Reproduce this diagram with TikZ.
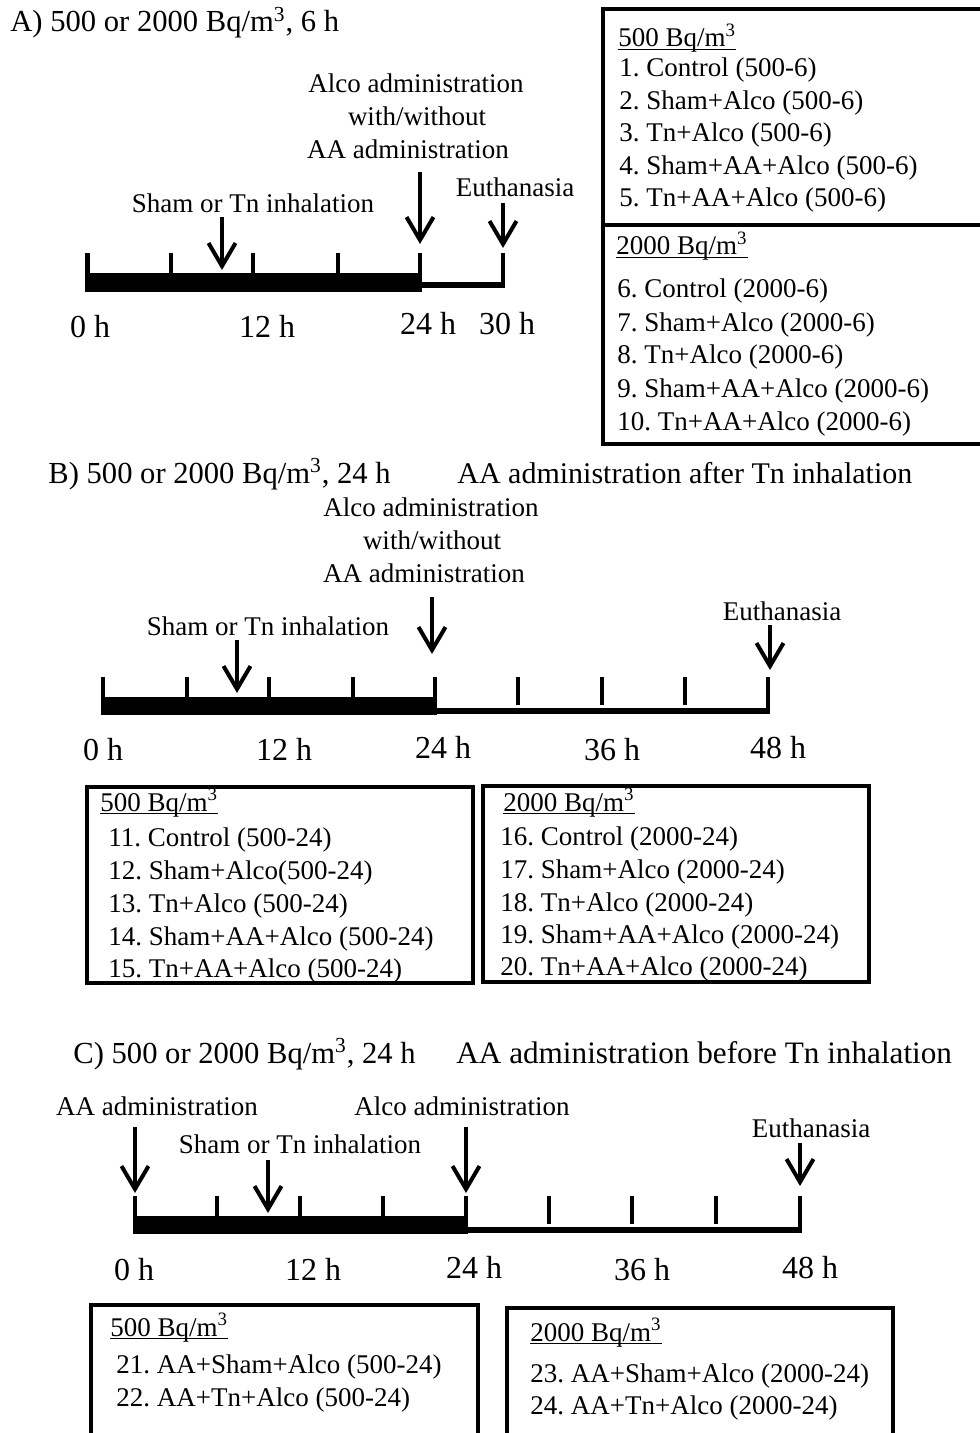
\documentclass[tikz,border=0pt]{standalone}
\usepackage{fontspec}
\setmainfont{Liberation Serif}
\usetikzlibrary{arrows.meta}
\frenchspacing
\newcommand\myul[1]{\setbox0\hbox{#1}\rlap{\rule[-1.7pt]{\wd0}{0.8pt}}\box0}
\begin{document}
\begin{tikzpicture}[x=0.5pt,y=-0.5pt,
  txt/.style={inner sep=0pt, font=\fontsize{13.5}{16}\selectfont, anchor=base},
  itm/.style={txt, anchor=base west},
  hr/.style={inner sep=0pt, font=\fontsize{16}{19}\selectfont, anchor=base},
  ttl/.style={inner sep=0pt, font=\fontsize{15.3}{18}\selectfont, anchor=base west},
  tick/.style={line width=2.3pt},
  thinline/.style={line width=2.8pt},
  arr/.style={line width=2pt, -{Straight Barb[length=11.5pt,width=13.5pt]}},
  box/.style={line width=2.4pt}]
\useasboundingbox (0,0) rectangle (979,1433);
\fill[white] (0,0) rectangle (979,1433);

% ================= Panel A =================
\node[ttl] (tA) at (10,32) {A) 500 or 2000 Bq/m\textsuperscript{3}, 6 h};
\node[txt] (aAlco1) at (416,93) {Alco administration};
\node[txt] (aAlco2) at (417,126) {with/without};
\node[txt] (aAlco3) at (408,159) {AA administration};
\node[txt] (aSham) at (253,213) {Sham or Tn inhalation};
\node[txt] (aEuth) at (515,197) {Euthanasia};
% timeline
\fill (85,273) rectangle (422,292);
\draw[thinline] (420,285) -- (505,285);
\foreach \x in {87.5,171,253,338,420} \draw[tick] (\x,253) -- (\x,280);
\draw[tick] (503,253) -- (503,286.4);
% arrows
\coordinate (aS0) at (222,217); \coordinate (aS1) at (222,270);
\coordinate (aA0) at (420,172); \coordinate (aA1) at (420,244);
\coordinate (aE0) at (503,203); \coordinate (aE1) at (503,248);
\draw[arr] (aS0) -- (aS1);
\draw[arr] (aA0) -- (aA1);
\draw[arr] (aE0) -- (aE1);
% hours
\node[hr] (aH0) at (90,337) {0 h};
\node[hr] (aH12) at (267,337) {12 h};
\node[hr] (aH24) at (428,335) {24 h};
\node[hr] (aH30) at (507,335) {30 h};
% box A
\draw[box] (603,9) rectangle (995,225);
\draw[box] (603,225) rectangle (995,444);
\node[itm] (a500) at (618,47) {\myul{500 Bq/m\textsuperscript{3}}};
\node[itm] (a1) at (619,77) {1. Control (500-6)};
\node[itm] (a2) at (619,110) {2. Sham+Alco (500-6)};
\node[itm] (a3) at (619,142) {3. Tn+Alco (500-6)};
\node[itm] (a4) at (619,175) {4. Sham+AA+Alco (500-6)};
\node[itm] (a5) at (619,207) {5. Tn+AA+Alco (500-6)};
\node[itm] (a2000) at (616,255) {\myul{2000 Bq/m\textsuperscript{3}}};
\node[itm] (a6) at (617,298) {6. Control (2000-6)};
\node[itm] (a7) at (617,332) {7. Sham+Alco (2000-6)};
\node[itm] (a8) at (617,364) {8. Tn+Alco (2000-6)};
\node[itm] (a9) at (617,397) {9. Sham+AA+Alco (2000-6)};
\node[itm] (a10) at (617,430) {10. Tn+AA+Alco (2000-6)};

% ================= Panel B =================
\node[ttl] (tB) at (48,483) {B) 500 or 2000 Bq/m\textsuperscript{3}, 24 h};
\node[ttl, font=\fontsize{15}{18}\selectfont] (tB2) at (457,483) {AA administration after Tn inhalation};
\node[txt] (bAlco1) at (431,516) {Alco administration};
\node[txt] (bAlco2) at (432,549) {with/without};
\node[txt] (bAlco3) at (424,582) {AA administration};
\node[txt] (bSham) at (268,635) {Sham or Tn inhalation};
\node[txt] (bEuth) at (782,620) {Euthanasia};
\fill (101,697) rectangle (437,715);
\draw[thinline] (435,711) -- (770,711);
\foreach \x in {103,187,269,353,435,518,602,685} \draw[tick] (\x,677) -- (\x,705);
\draw[tick] (768,677) -- (768,712.4);
\coordinate (bS0) at (237,640); \coordinate (bS1) at (237,693);
\coordinate (bA0) at (432,597); \coordinate (bA1) at (432,654);
\coordinate (bE0) at (770,625); \coordinate (bE1) at (770,670);
\draw[arr] (bS0) -- (bS1);
\draw[arr] (bA0) -- (bA1);
\draw[arr] (bE0) -- (bE1);
\node[hr] (bH0) at (103,760) {0 h};
\node[hr] (bH12) at (284,760) {12 h};
\node[hr] (bH24) at (443,758) {24 h};
\node[hr] (bH36) at (612,760) {36 h};
\node[hr] (bH48) at (778,758) {48 h};
\draw[box] (87,787) rectangle (473,983);
\draw[box] (483,786) rectangle (869,982);
\node[itm] (b500) at (100,811) {\myul{500 Bq/m\textsuperscript{3}}};
\node[itm] (b11) at (108,846) {11. Control (500-24)};
\node[itm] (b12) at (108,879) {12. Sham+Alco(500-24)};
\node[itm] (b13) at (108,912) {13. Tn+Alco (500-24)};
\node[itm] (b14) at (108,945) {14. Sham+AA+Alco (500-24)};
\node[itm] (b15) at (108,977) {15. Tn+AA+Alco (500-24)};
\node[itm] (b2000) at (503,811) {\myul{2000 Bq/m\textsuperscript{3}}};
\node[itm] (b16) at (500,845) {16. Control (2000-24)};
\node[itm] (b17) at (500,878) {17. Sham+Alco (2000-24)};
\node[itm] (b18) at (500,911) {18. Tn+Alco (2000-24)};
\node[itm] (b19) at (500,943) {19. Sham+AA+Alco (2000-24)};
\node[itm] (b20) at (500,975) {20. Tn+AA+Alco (2000-24)};

% ================= Panel C =================
\node[ttl] (tC) at (73,1063) {C) 500 or 2000 Bq/m\textsuperscript{3}, 24 h};
\node[ttl, font=\fontsize{15.6}{18}\selectfont] (tC2) at (456,1063) {AA administration before Tn inhalation};
\node[txt] (cAA) at (157,1115) {AA administration};
\node[txt] (cAlco) at (462,1115) {Alco administration};
\node[txt] (cSham) at (300,1153) {Sham or Tn inhalation};
\node[txt] (cEuth) at (811,1137) {Euthanasia};
\fill (133,1216) rectangle (468,1234);
\draw[thinline] (466,1230) -- (802,1230);
\foreach \x in {135,217,300,383,466,549,632,716} \draw[tick] (\x,1196) -- (\x,1224);
\draw[tick] (800,1196) -- (800,1231.4);
\coordinate (cA0) at (135,1127); \coordinate (cA1) at (135,1193);
\coordinate (cS0) at (268,1160); \coordinate (cS1) at (268,1213);
\coordinate (cL0) at (466,1127); \coordinate (cL1) at (466,1193);
\coordinate (cE0) at (800,1143); \coordinate (cE1) at (800,1186);
\draw[arr] (cA0) -- (cA1);
\draw[arr] (cS0) -- (cS1);
\draw[arr] (cL0) -- (cL1);
\draw[arr] (cE0) -- (cE1);
\node[hr] (cH0) at (134,1280) {0 h};
\node[hr] (cH12) at (313,1280) {12 h};
\node[hr] (cH24) at (474,1278) {24 h};
\node[hr] (cH36) at (642,1280) {36 h};
\node[hr] (cH48) at (810,1278) {48 h};
\draw[box] (91,1445) -- (91,1305) -- (478,1305) -- (478,1445);
\draw[box] (507,1445) -- (507,1308) -- (893,1308) -- (893,1445);
\node[itm] (c500) at (110,1336) {\myul{500 Bq/m\textsuperscript{3}}};
\node[itm] (c21) at (116,1373) {21. AA+Sham+Alco (500-24)};
\node[itm] (c22) at (116,1406) {22. AA+Tn+Alco (500-24)};
\node[itm] (c2000) at (530,1341) {\myul{2000 Bq/m\textsuperscript{3}}};
\node[itm] (c23) at (530,1382) {23. AA+Sham+Alco (2000-24)};
\node[itm] (c24) at (530,1414) {24. AA+Tn+Alco (2000-24)};
\end{tikzpicture}
\end{document}
